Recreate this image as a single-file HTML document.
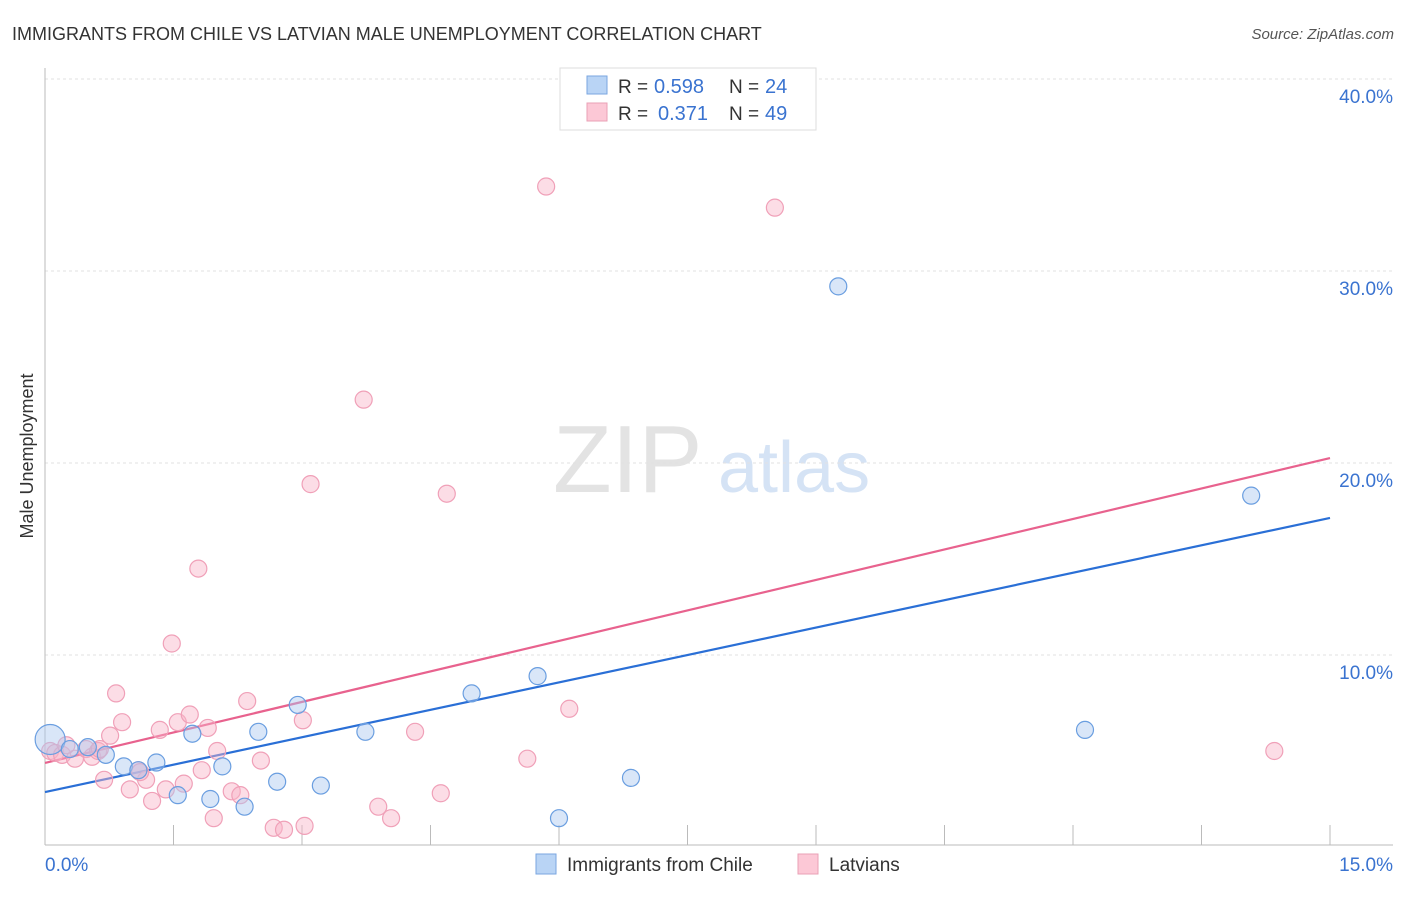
<!DOCTYPE html>
<html><head><meta charset="utf-8"><style>
body{margin:0;background:#fff;font-family:"Liberation Sans",sans-serif;}
svg text{font-family:"Liberation Sans",sans-serif;}
</style></head><body>
<svg id="chart" width="1406" height="892" viewBox="0 0 1406 892" xmlns="http://www.w3.org/2000/svg">
<text x="12" y="40" font-size="18" fill="#333">IMMIGRANTS FROM CHILE VS LATVIAN MALE UNEMPLOYMENT CORRELATION CHART</text>
<text x="1394" y="39" font-size="15" fill="#555" text-anchor="end" font-style="italic">Source: ZipAtlas.com</text>
<g>
<text x="553" y="492" font-size="96" fill="#e3e3e3" font-family="Liberation Serif, serif">ZIP</text>
<text x="718" y="492" font-size="72" fill="#d5e3f5">atlas</text>
</g>
<g id="grid"></g>
<g id="axes"></g>
<g id="lines"></g>
<g id="pts"></g>
<text transform="translate(33,456) rotate(-90)" font-size="18" fill="#333" text-anchor="middle">Male Unemployment</text>
<g>
<rect x="560" y="68" width="256" height="62" fill="#fff" stroke="#ddd"/>
<rect x="587" y="76" width="20" height="18" fill="#b9d4f5" stroke="#7aa6e0"/>
<rect x="587" y="103" width="20" height="18" fill="#fcc8d6" stroke="#eaa0b6"/>
<text x="618" y="93" font-size="19" fill="#333">R =</text>
<text x="654" y="93" font-size="20" fill="#3a73d0">0.598</text>
<text x="729" y="93" font-size="19" fill="#333">N =</text>
<text x="765" y="93" font-size="20" fill="#3a73d0">24</text>
<text x="618" y="120" font-size="19" fill="#333">R =</text>
<text x="658" y="120" font-size="20" fill="#3a73d0">0.371</text>
<text x="729" y="120" font-size="19" fill="#333">N =</text>
<text x="765" y="120" font-size="20" fill="#3a73d0">49</text>
</g>
<g>
<rect x="536" y="854" width="20" height="20" fill="#b9d4f5" stroke="#7aa6e0"/>
<text x="567" y="871" font-size="19" fill="#333">Immigrants from Chile</text>
<rect x="798" y="854" width="20" height="20" fill="#fcc8d6" stroke="#eaa0b6"/>
<text x="829" y="871" font-size="19" fill="#333">Latvians</text>
</g>
</svg>
<script>
const yTicks=[10,20,30,40];
const xTickVals=[0,1.5,3,4.5,6,7.5,9,10.5,12,13.5,15];
const blueX=[0.06,0.29,0.5,0.71,0.92,1.09,1.3,1.55,1.72,1.93,2.07,2.33,2.49,2.71,2.95,3.22,3.74,4.98,5.75,6.0,6.84,9.26,12.14,14.08];
const blueY=[5.6,5.1,5.2,4.8,4.2,4.0,4.4,2.7,5.9,2.5,4.2,2.1,6.0,3.4,7.4,3.2,6.0,8.0,8.9,1.5,3.6,29.2,6.1,18.3];
const blueR=[15,8.5,8.5,8.5,8.5,8.5,8.5,8.5,8.5,8.5,8.5,8.5,8.5,8.5,8.5,8.5,8.5,8.5,8.5,8.5,8.5,8.5,8.5,8.5];
const pinkX=[0.06,0.12,0.2,0.35,0.48,0.55,0.62,0.69,0.76,0.83,0.9,0.99,1.09,1.18,1.25,1.34,1.41,1.48,1.55,1.62,1.69,1.79,1.83,1.9,1.97,2.01,2.18,2.28,2.36,2.52,2.67,2.79,3.01,3.03,3.1,3.72,3.89,4.04,4.32,4.62,4.69,5.63,5.85,6.12,8.52,14.35,0.25,1.11,0.64];
const pinkY=[5.0,4.9,4.8,4.6,5.1,4.7,5.0,3.5,5.8,8.0,6.5,3.0,4.0,3.5,2.4,6.1,3.0,10.6,6.5,3.3,6.9,14.5,4.0,6.2,1.5,5.0,2.9,2.7,7.6,4.5,1.0,0.9,6.6,1.1,18.9,23.3,2.1,1.5,6.0,2.8,18.4,4.6,34.4,7.2,33.3,5.0,5.3,3.9,5.1];
const trendBlue=[2.86,17.14];
const trendPink=[4.38,20.26];
const NS="http://www.w3.org/2000/svg";
const X=v=>45+v*(1285/15), Y=v=>847-v*19.2;
function mk(t,a,p){const e=document.createElementNS(NS,t);for(const k in a)e.setAttribute(k,a[k]);p.appendChild(e);return e;}
const grid=document.getElementById('grid'),axes=document.getElementById('axes');
yTicks.forEach(t=>{
 const l=mk('line',{x1:45,x2:1393,y1:Y(t),y2:Y(t),stroke:'#e2e2e2','stroke-dasharray':'3,3'},grid);
 
 
 const tx=mk('text',{x:1393,y:Y(t)+24,'font-size':19,fill:'#3a73d0','text-anchor':'end'},axes);
 tx.textContent=t.toFixed(1)+'%';
 
 
});
mk('line',{x1:45,x2:45,y1:68,y2:845,stroke:'#bbb'},axes);
mk('line',{x1:45,x2:1393,y1:845,y2:845,stroke:'#bbb'},axes);
xTickVals.slice(1).forEach(t=>{
 const l=mk('line',{x1:X(t),x2:X(t),y1:825,y2:845,stroke:'#bbb'},axes);
 
 
});
[[0,'start',45],[15,'end',1393]].forEach(([v,a,x])=>{
 const tx=mk('text',{x:x,y:871,'font-size':19,fill:'#3a73d0','text-anchor':a},axes);
 tx.textContent=v.toFixed(1)+'%';
 
 
});
const pts=document.getElementById('pts');
pinkX.forEach((x,i)=>{const c=mk('circle',{cx:X(x),cy:Y(pinkY[i]),r:8.5,fill:'rgba(248,180,200,0.45)',stroke:'#f0a0b8','stroke-width':1.2},pts);
 
 });
blueX.forEach((x,i)=>{const c=mk('circle',{cx:X(x),cy:Y(blueY[i]),r:blueR[i],fill:'rgba(170,200,240,0.45)',stroke:'#6a9ee0','stroke-width':1.2},pts);
 
 });
const lines=document.getElementById('lines');
const lb=mk('line',{x1:X(0),y1:Y(trendBlue[0]),x2:X(15),y2:Y(trendBlue[1]),stroke:'#2a6fd6','stroke-width':2.2},lines);


const lp=mk('line',{x1:X(0),y1:Y(trendPink[0]),x2:X(15),y2:Y(trendPink[1]),stroke:'#e8628e','stroke-width':2.2},lines);


</script>
</body></html>
